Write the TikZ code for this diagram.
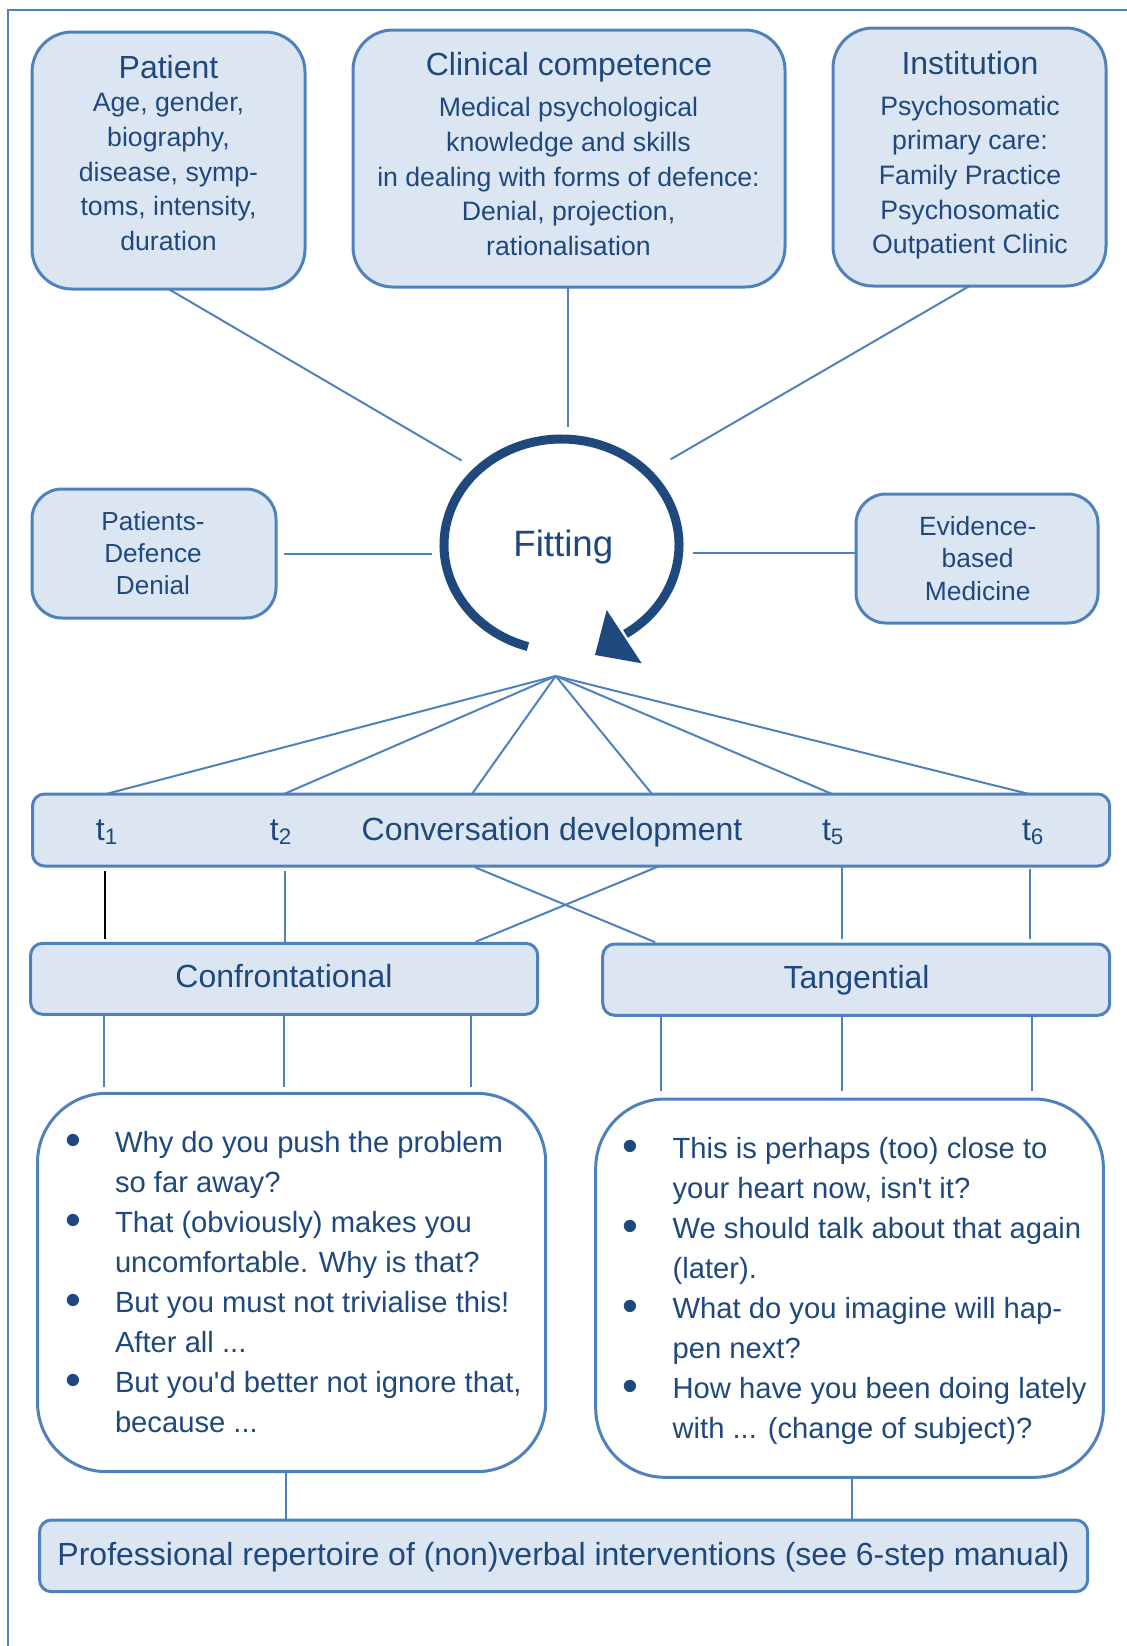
\documentclass[tikz,border=0pt]{standalone}
\usepackage{fontspec}
\setmainfont{Liberation Sans}
\usetikzlibrary{fit}
\definecolor{boxfill}{HTML}{DCE6F2}
\definecolor{boxline}{HTML}{4F81BD}
\definecolor{ink}{HTML}{1F497D}
% centred block of lines whose base anchor is the first line's baseline
\newcommand\linesc[1]{\begin{tabular}[t]{@{}c@{}}#1\end{tabular}}
% bullet list block: bullet column and item text column
\newcommand\bigdot{\raisebox{\dimexpr 5.8pt-0.5\height+0.5\depth\relax}{\fontsize{34}{34}\selectfont\textbullet}}
\newcommand\itm{\makebox[63pt]{\bigdot}}
\newcommand\bulletlist[1]{\begin{tabular}[t]{@{}l@{}l@{}}#1\end{tabular}}
\newcommand\apos{\textquotesingle}
\begin{document}
\begin{tikzpicture}[x=0.75pt,y=-0.75pt,
  panel/.style={draw=boxline, fill=boxfill, line width=2.25pt, inner sep=0pt, outer sep=0pt},
  bubble/.style={draw=boxline, fill=white, line width=2.25pt, inner sep=0pt, outer sep=0pt, rounded corners=52pt},
  conn/.style={draw=boxline, line width=1.5pt},
  frame/.style={draw=boxline, line width=1.5pt},
  txt/.style={text=ink, inner sep=0pt, outer sep=0pt, anchor=base},
  title/.style={txt, font=\fontsize{24}{29}\selectfont},
  body/.style={txt, font=\fontsize{20}{26}\selectfont},
  small/.style={txt, font=\fontsize{19.6}{24}\selectfont},
  listtext/.style={txt, anchor=base west, font=\fontsize{21.9}{30}\selectfont},
]
\useasboundingbox (0,0) rectangle (1127,1646);

% outer frame (top and left edges)
\draw[frame] (8.3,1646) -- (8.3,9.5) -- (1127,9.5);

% ---------- upper boxes ----------
\node[panel, rounded corners=30pt, fit={(32,32) (305,289)}] (pat) {};
\node[panel, rounded corners=30pt, fit={(353,30) (785,287)}] (clin) {};
\node[panel, rounded corners=30pt, fit={(833,28) (1106,286)}] (inst) {};
\node[title] (patT) at (168.5,78) {Patient};
\node[body] (patB) at (168.5,111.7) {\linesc{Age, gender,\\ biography,\\ disease, symp-\\ toms, intensity,\\ duration}};
\node[title] (clinT) at (569,75) {Clinical competence};
\node[body] (clinB) at (568.5,116.7) {\linesc{Medical psychological\\ knowledge and skills\\ in dealing with forms of defence:\\ Denial, projection,\\ rationalisation}};
\node[title] (instT) at (970,74) {Institution};
\node[body] (instB) at (970,115) {\linesc{Psychosomatic\\ primary care:\\ Family Practice\\ Psychosomatic\\ Outpatient Clinic}};

% ---------- side boxes ----------
\node[panel, rounded corners=22.5pt, fit={(32,489) (276,618)}] (pdef) {};
\node[small] (pdefT) at (153,530) {\linesc{Patients-\\ Defence\\ Denial}};
\node[panel, rounded corners=22.5pt, fit={(856,494) (1098,623)}] (ebm) {};
\node[small, font=\fontsize{19.8}{24.4}\selectfont] (ebmT) at (977.7,535) {\linesc{Evidence-\\ based\\ Medicine}};

% ---------- fitting cycle ----------
\coordinate (fc) at (561.5,545);
\node[txt, font=\fontsize{27.5}{32}\selectfont] (fitT) at (563.3,556.7) {Fitting};
\draw[ink, line width=6.75pt] (fc) ++(106.6:117.5 and 106)
  arc[start angle=106.6, end angle=417, x radius=117.5, y radius=106];
\fill[ink] (606.7,610) -- (641.7,663.3) -- (595,655) -- cycle;

\coordinate (fitNW) at (461.5,460.5);
\coordinate (fitN) at (568,427);
\coordinate (fitNE) at (670.7,459.3);
\coordinate (fitW) at (432,553.5);
\coordinate (fitE) at (693,553.3);
\coordinate (apex) at (555.7,676);

\draw[conn] (pat.south) -- (fitNW);
\draw[conn] (clin.south -| fitN) -- (fitN);
\draw[conn] (inst.south) -- (fitNE);
\draw[conn, shorten <=6pt] (pdef.east |- fitW) -- (fitW);
\draw[conn] (fitE) -- (fitE -| ebm.west);

% ---------- conversation development ----------
\node[panel, rounded corners=9pt, fit={(32.5,794) (1109.7,866)}] (conv) {};
\node[title] (convT) at (552,840) {Conversation development};
\node[title] (t1) at (107,840) {t\textsubscript{1}};
\node[title] (t2) at (281,840) {t\textsubscript{2}};
\node[title] (t5) at (833,840) {t\textsubscript{5}};
\node[title] (t6) at (1033,840) {t\textsubscript{6}};

\foreach \i/\xx in {1/106,2/284,3/472,4/652,5/832,6/1029}
  \coordinate (c\i) at (\xx,794);
\foreach \i in {1,...,6}
  \draw[conn] (apex) -- (c\i);

% ---------- conversation styles ----------
\node[panel, rounded corners=9pt, fit={(30.6,943.3) (537.7,1014.3)}] (conf) {};
\node[title] (confT) at (284,987.3) {Confrontational};
\node[panel, rounded corners=9pt, fit={(602.7,944) (1109.7,1015.3)}] (tang) {};
\node[title] (tangT) at (856.6,988) {Tangential};

\coordinate (v1) at (105,0);
\coordinate (v2) at (285,0);
\coordinate (v3) at (472,0);
\coordinate (v4) at (659.5,0);
\coordinate (v5) at (842,0);
\coordinate (v6) at (1030,0);
\draw[conn, draw=black, line width=1.2pt, shorten <=3.5pt, shorten >=3pt] (conv.south -| v1) -- (conf.north -| v1);
\draw[conn, shorten <=3.5pt, shorten >=1pt] (conv.south -| v2) -- (conf.north -| v2);
\draw[conn, shorten <=2.5pt, shorten >=3.5pt] (conv.south -| v3) -- (tang.north -| v4);
\draw[conn, shorten <=0pt, shorten >=3pt] (conv.south -| v4) -- (conf.north -| v3);
\draw[conn, shorten <=1pt, shorten >=3.5pt] (conv.south -| v5) -- (tang.north -| v5);
\draw[conn, shorten <=2pt, shorten >=3.5pt] (conv.south -| v6) -- (tang.north -| v6);

% ---------- example interventions ----------
\node[bubble, fit={(37.5,1093.3) (545.7,1471.7)}] (lb) {};
\node[bubble, fit={(595.7,1099) (1103.4,1477.3)}] (rb) {};

\node[listtext] (lbT) at (31,1152.7) {\bulletlist{%
 \itm & Why do you push the problem\\
      & so far away?\\
 \itm & That (obviously) makes you\\
      & uncomfortable. Why is that?\\
 \itm & But you must not trivialise this!\\
      & After all ...\\
 \itm & But you\apos d better not ignore that,\\
      & because ...}};
\node[listtext] (rbT) at (588.6,1158.3) {\bulletlist{%
 \itm & This is perhaps (too) close to\\
      & your heart now, isn\apos t it?\\
 \itm & We should talk about that again\\
      & (later).\\
 \itm & What do you imagine will hap-\\
      & pen next?\\
 \itm & How have you been doing lately\\
      & with ... (change of subject)?}};

\coordinate (a1) at (104,0);
\coordinate (a2) at (284,0);
\coordinate (a3) at (471,0);
\coordinate (b1) at (661,0);
\coordinate (b2) at (841.7,0);
\coordinate (b3) at (1032,0);
\foreach \p in {a1,a2,a3}
  \draw[conn, shorten >=4.5pt] (conf.south -| \p) -- (lb.north -| \p);
\foreach \p in {b1,b2,b3}
  \draw[conn, shorten >=6pt] (tang.south -| \p) -- (rb.north -| \p);

% ---------- repertoire ----------
\node[panel, rounded corners=9pt, fit={(39.5,1520) (1087.7,1591.7)}] (prof) {};
\node[title] (profT) at (563.5,1565) {Professional repertoire of (non)verbal interventions (see 6-step manual)};

\coordinate (p1) at (286,0);
\coordinate (p2) at (852,0);
\draw[conn] (lb.south -| p1) -- (prof.north -| p1);
\draw[conn] (rb.south -| p2) -- (prof.north -| p2);
\end{tikzpicture}
\end{document}
